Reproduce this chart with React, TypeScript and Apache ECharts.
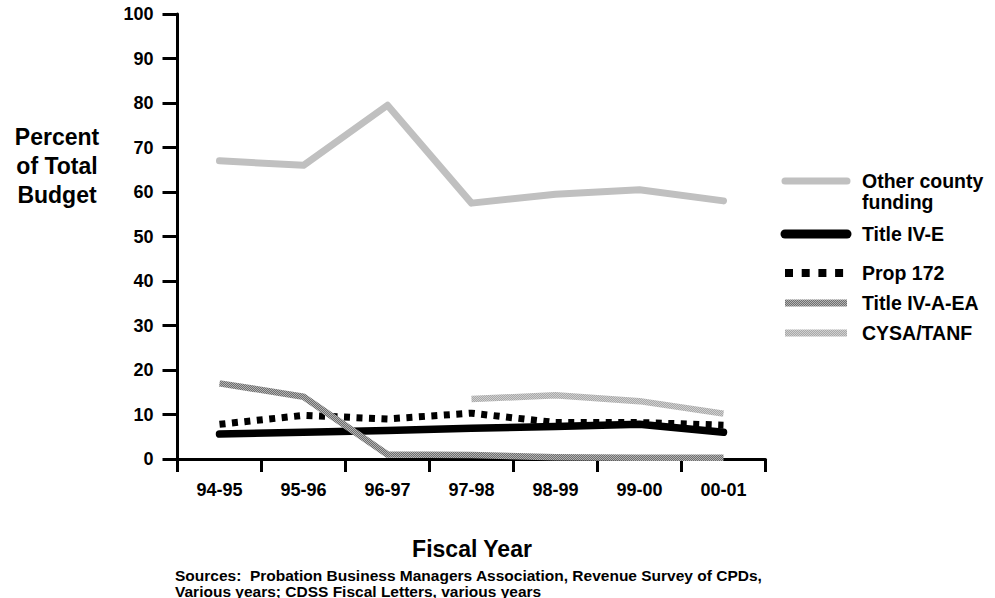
import React, { useEffect, useRef } from "react";
import * as echarts from "echarts";

const categories = ["94-95", "95-96", "96-97", "97-98", "98-99", "99-00", "00-01"];
const otherCounty = [67, 66, 79.5, 57.5, 59.5, 60.5, 58];
const titleIVE = [5.6, 6.0, 6.4, 6.9, 7.3, 7.8, 6.0];
const prop172 = [7.8, 9.8, 9.0, 10.3, 8.2, 8.2, 7.6];
const titleIVAEA = [17, 14, 1, 0.9, 0.4, 0.3, 0.3];
const cysaTanf = [null, null, null, 13.5, 14.3, 13, 10.2];
const yTicks = [0, 100, 10];
const seriesNames = ["Other county\nfunding", "Title IV-E", "Prop 172", "Title IV-A-EA", "CYSA/TANF"];

const FONT = "'Liberation Sans', Arial, Helvetica, sans-serif";

function makePattern(dark: string, light: string) {
  const c = document.createElement("canvas");
  c.width = 4;
  c.height = 4;
  const ctx = c.getContext("2d")!;
  ctx.fillStyle = light;
  ctx.fillRect(0, 0, 4, 4);
  ctx.fillStyle = dark;
  for (let i = 0; i < 4; i++) {
    ctx.fillRect(i, 3 - i, 1, 1);
    ctx.fillRect((i + 2) % 4, 3 - i, 1, 1);
  }
  return { image: c, repeat: "repeat" } as any;
}

export default function App() {
  const ref = useRef<HTMLDivElement>(null);
  useEffect(() => {
    if (!ref.current) return;
    const chart = echarts.init(ref.current, undefined, { renderer: "svg" });
    const patA = makePattern("#6e6e6e", "#b4b4b4");
    const patC = makePattern("#a8a8a8", "#d0d0d0");

    const lx0 = 785;
    const lx1 = 847;
    const tx = 862;
    const legendY = [181, 234, 273, 303, 333];
    const legendStyles: any[] = [
      { stroke: "#c0c0c0", lineWidth: 7, lineCap: "round" },
      { stroke: "#000", lineWidth: 9, lineCap: "round" },
      { stroke: "#000", lineWidth: 8, lineDash: [8, 8.7] },
      { stroke: patA, lineWidth: 7 },
      { stroke: patC, lineWidth: 7 },
    ];
    const legendGraphics: any[] = [];
    seriesNames.forEach((n, i) => {
      legendGraphics.push({
        type: "line",
        shape: { x1: lx0, y1: legendY[i], x2: lx1, y2: legendY[i] },
        style: legendStyles[i],
      });
      legendGraphics.push({
        type: "text",
        x: tx,
        y: i === 0 ? legendY[i] - 11 : legendY[i],
        style: {
          text: n,
          font: `bold 19.5px ${FONT}`,
          fill: "#000",
          textVerticalAlign: i === 0 ? "top" : "middle",
          verticalAlign: i === 0 ? "top" : "middle",
          lineHeight: 21,
        },
      });
    });

    chart.setOption({
      animation: false,
      backgroundColor: "#fff",
      grid: { left: 177.5, right: 229.5, top: 14, bottom: 139 },
      xAxis: {
        type: "category",
        data: categories,
        boundaryGap: true,
        axisLine: { lineStyle: { color: "#000", width: 3 } },
        axisTick: { show: true, length: 13, lineStyle: { color: "#000", width: 3 } },
        axisLabel: { color: "#000", fontWeight: "bold", fontSize: 18, fontFamily: FONT, margin: 22 },
        splitLine: { show: false },
      },
      yAxis: {
        type: "value",
        min: yTicks[0],
        max: yTicks[1],
        interval: yTicks[2],
        axisLine: { show: true, lineStyle: { color: "#000", width: 3 } },
        axisTick: { show: true, length: 15, lineStyle: { color: "#000", width: 3 } },
        axisLabel: { color: "#000", fontWeight: "bold", fontSize: 18, fontFamily: FONT, margin: 24 },
        splitLine: { show: false },
      },
      series: [
        {
          name: seriesNames[0],
          type: "line",
          data: otherCounty,
          symbol: "none",
          lineStyle: { color: "#c0c0c0", width: 7, cap: "round", join: "round" },
        },
        {
          name: seriesNames[1],
          type: "line",
          data: titleIVE,
          symbol: "none",
          lineStyle: { color: "#000", width: 7.5, cap: "round", join: "round" },
        },
        {
          name: seriesNames[2],
          type: "line",
          data: prop172,
          symbol: "none",
          lineStyle: { color: "#000", width: 7, type: [6, 6.5], cap: "butt" },
        },
        {
          name: seriesNames[3],
          type: "line",
          data: titleIVAEA,
          symbol: "none",
          lineStyle: { color: patA, width: 6.5, join: "round" },
        },
        {
          name: seriesNames[4],
          type: "line",
          data: cysaTanf,
          symbol: "none",
          connectNulls: false,
          lineStyle: { color: patC, width: 6.5, join: "round" },
        },
      ],
      graphic: [
        {
          type: "text",
          x: 57,
          y: 166,
          style: {
            text: "Percent\nof Total\nBudget",
            font: `bold 23px ${FONT}`,
            fill: "#000",
            textAlign: "center",
            align: "center",
            verticalAlign: "middle",
            textVerticalAlign: "middle",
            lineHeight: 29,
          },
        },
        {
          type: "text",
          x: 472,
          y: 549,
          style: {
            text: "Fiscal Year",
            font: `bold 23px ${FONT}`,
            fill: "#000",
            textAlign: "center",
            align: "center",
            verticalAlign: "middle",
            textVerticalAlign: "middle",
          },
        },
        {
          type: "text",
          x: 175,
          y: 567,
          style: {
            text: "Sources:  Probation Business Managers Association, Revenue Survey of CPDs,\nVarious years; CDSS Fiscal Letters, various years",
            font: `bold 15.5px ${FONT}`,
            fill: "#000",
            verticalAlign: "top",
            textVerticalAlign: "top",
            lineHeight: 16,
          },
        },
        ...legendGraphics,
      ],
    });
    return () => chart.dispose();
  }, []);
  return (
    <div
      ref={ref}
      style={{ position: "fixed", left: 0, top: 0, width: 995, height: 598 }}
    />
  );
}
